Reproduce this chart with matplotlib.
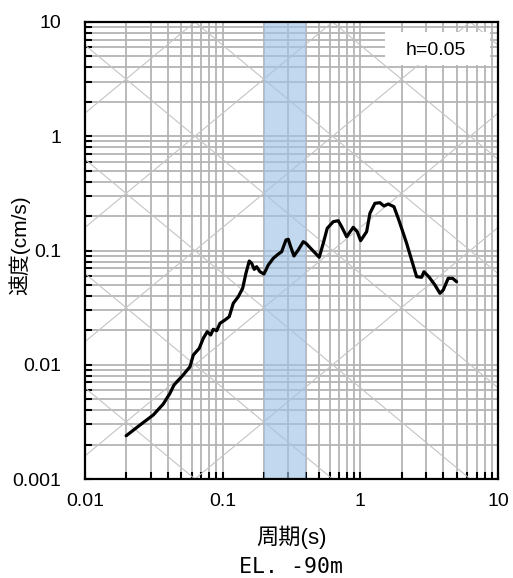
import numpy as np
import matplotlib
matplotlib.use("Agg")
import matplotlib.pyplot as plt
from matplotlib.ticker import LogLocator, NullFormatter, FixedLocator, FixedFormatter
from matplotlib.patches import Rectangle

plt.rcParams['font.family'] = ['Liberation Sans', 'Noto Sans CJK JP', 'DejaVu Sans']

# ---- data ----
period = [0.0199, 0.0251, 0.0313, 0.0370, 0.0414, 0.0443, 0.0504, 0.0579, 0.0612, 0.0676,
          0.0723, 0.0773, 0.0818, 0.0855, 0.0905, 0.0956, 0.1039, 0.1116, 0.1194, 0.1298,
          0.1397, 0.1476, 0.1560, 0.1624, 0.1696, 0.1765, 0.1866, 0.1995, 0.2144, 0.2331,
          0.2534, 0.2682, 0.2883, 0.2996, 0.3118, 0.3295, 0.3540, 0.3849, 0.4027, 0.4429,
          0.5029, 0.5377, 0.5748, 0.6356, 0.6911, 0.7315, 0.7954, 0.8882, 0.9495, 1.005,
          1.111, 1.174, 1.276, 1.388, 1.484, 1.595, 1.754, 1.884, 1.995, 2.169,
          2.358, 2.564, 2.788, 2.897, 3.166, 3.482, 3.786, 4.000, 4.348, 4.680, 5.004]
velocity = [0.00239, 0.00297, 0.00363, 0.00453, 0.00562, 0.00665, 0.00786, 0.00961, 0.01217, 0.01393,
            0.01704, 0.01947, 0.01822, 0.02044, 0.01986, 0.02306, 0.02464, 0.02634, 0.03449, 0.03940,
            0.04668, 0.0632, 0.0809, 0.0772, 0.0684, 0.0721, 0.0652, 0.0623, 0.0746, 0.0854,
            0.0930, 0.0976, 0.1236, 0.1253, 0.1080, 0.0895, 0.1010, 0.1194, 0.1156, 0.1024,
            0.0872, 0.1156, 0.1564, 0.1787, 0.1823, 0.1615, 0.1320, 0.1596, 0.1461, 0.1219,
            0.1461, 0.2117, 0.2588, 0.2620, 0.2452, 0.2553, 0.2417, 0.1913, 0.1564, 0.1156,
            0.0826, 0.0590, 0.0583, 0.0652, 0.0583, 0.0499, 0.0422, 0.0451, 0.0571, 0.0571, 0.0533]

band = (0.2, 0.4)
disp_levels = [1e-5, 1e-4, 1e-3, 1e-2, 1e-1, 1e0, 1e1, 1e2]      # cm
acc_levels = [1e-1, 1e0, 1e1, 1e2, 1e3, 1e4, 1e5]                # cm/s2

x_ticks = [0.01, 0.1, 1, 10]
x_ticklabels = ['0.01', '0.1', '1', '10']
y_ticks = [0.001, 0.01, 0.1, 1, 10]
y_ticklabels = ['0.001', '0.01', '0.1', '1', '10']

# ---- figure ----
fig = plt.figure(figsize=(5.13, 5.78), dpi=100)
ax = fig.add_axes([85/513, 1-479/578, 413/513, 457/578])
ax.set_xscale('log')
ax.set_yscale('log')

# grid
grid_color = '#b4b4b4'
ax.grid(True, which='both', color=grid_color, linewidth=1.3, zorder=0)
ax.set_axisbelow(True)

# tripartite diagonals
Tline = np.array([0.01, 10])
for D in disp_levels:
    ax.plot(Tline, 2*np.pi*D/Tline, color='#c4c4c4', lw=0.8, zorder=0.6)
for A in acc_levels:
    ax.plot(Tline, A*Tline/(2*np.pi), color='#c4c4c4', lw=0.8, zorder=0.6)
ax.set_xlim(0.01, 10)
ax.set_ylim(0.001, 10)

# band
ax.axvspan(band[0], band[1], color=(160/255, 196/255, 230/255), alpha=0.65, lw=0, zorder=1)

# curve
ax.plot(period, velocity, color='black', lw=2.3, zorder=3,
        solid_joinstyle='round', solid_capstyle='round')

# label box
ax.add_patch(Rectangle((0.7264, 0.9059), 0.2542, 0.0722, transform=ax.transAxes,
                       facecolor='white', edgecolor='none', zorder=4))
ax.text(0.85, 0.9387, 'h=0.05', transform=ax.transAxes, ha='center', va='center',
        fontsize=14, zorder=5)

# ticks
ax.xaxis.set_major_locator(FixedLocator(x_ticks))
ax.xaxis.set_major_formatter(FixedFormatter(x_ticklabels))
ax.yaxis.set_major_locator(FixedLocator(y_ticks))
ax.yaxis.set_major_formatter(FixedFormatter(y_ticklabels))
ax.xaxis.set_minor_locator(LogLocator(base=10, subs=np.arange(2, 10), numticks=20))
ax.yaxis.set_minor_locator(LogLocator(base=10, subs=np.arange(2, 10), numticks=20))
ax.xaxis.set_minor_formatter(NullFormatter())
ax.yaxis.set_minor_formatter(NullFormatter())
ax.tick_params(which='both', direction='in', length=5, width=1.5, colors='black',
               labelsize=14, top=False, right=False)
ax.tick_params(axis='x', which='major', pad=10)
ax.tick_params(axis='y', which='major', pad=17)

for s in ax.spines.values():
    s.set_linewidth(1.6)
    s.set_color('black')
    s.set_zorder(6)

fig.text(19/513, 1-245/578, '速度(cm/s)', rotation=90, ha='center', va='center', fontsize=15)
fig.text(292/513, 1-537/578, '周期(s)', ha='center', va='center', fontsize=16)
fig.text(291/513, 1-567/578, 'EL. -90m', ha='center', va='center', fontsize=15.5,
         family=['DejaVu Sans Mono'])

fig.savefig('out.png', dpi=100)
